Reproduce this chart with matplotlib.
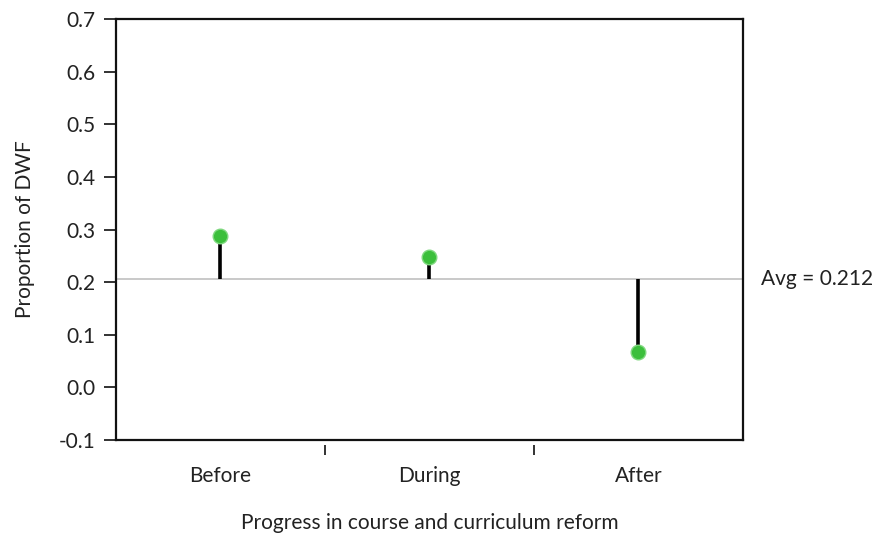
import matplotlib.pyplot as plt

# data
categories = ["Before", "During", "After"]
proportions = [0.287, 0.247, 0.068]
avg_dwf = 0.206
avg_label = "Avg = 0.212"

plt.rcParams["font.family"] = ["Lato", "DejaVu Sans"]
FS = 15

fig = plt.figure(figsize=(8.76, 5.34), dpi=100)
ax = fig.add_axes([0.1324, 0.176, 0.7156, 0.788])

x = list(range(len(categories)))

ax.axhline(avg_dwf, color="#c0c0c0", lw=1.2, zorder=1)
ax.vlines(x, avg_dwf, proportions, color="black", lw=2.6, zorder=2)
ax.scatter(x, proportions, s=110, color="#3cbf3c", edgecolors="#7fd87f",
           linewidths=1.0, zorder=3)

ax.set_xlim(-0.5, 2.5)
ax.set_ylim(-0.1, 0.7)
ax.set_yticks([-0.1, 0.0, 0.1, 0.2, 0.3, 0.4, 0.5, 0.6, 0.7])
ax.set_yticklabels([f"{v:.1f}" for v in ax.get_yticks()])
ax.tick_params(axis="y", direction="out", length=9, width=1.3,
               labelsize=FS, pad=6, colors="#222222")

ax.set_xticks(x)
ax.set_xticklabels(categories)
ax.tick_params(axis="x", length=0, labelsize=FS, pad=19, colors="#222222")

# small separator ticks between categories, offset below the axis
sec = ax.secondary_xaxis(location=-0.012)
sec.spines["bottom"].set_visible(False)
sec.set_xticks([0.5, 1.5])
sec.set_xticklabels(["", ""])
sec.tick_params(axis="x", direction="out", length=7, width=1.3, color="#222222")

for sp in ax.spines.values():
    sp.set_linewidth(1.6)
    sp.set_color("#111111")

ax.set_ylabel("Proportion of DWF", fontsize=FS, color="#222222", labelpad=17)
ax.set_xlabel("Progress in course and curriculum reform", fontsize=FS,
              color="#222222", labelpad=19)

ax.annotate(avg_label, xy=(1.0, avg_dwf), xycoords=("axes fraction", "data"),
            xytext=(13, 0), textcoords="offset points", fontsize=FS,
            color="#222222", va="center", ha="left")

fig.savefig("out.png", dpi=100)
